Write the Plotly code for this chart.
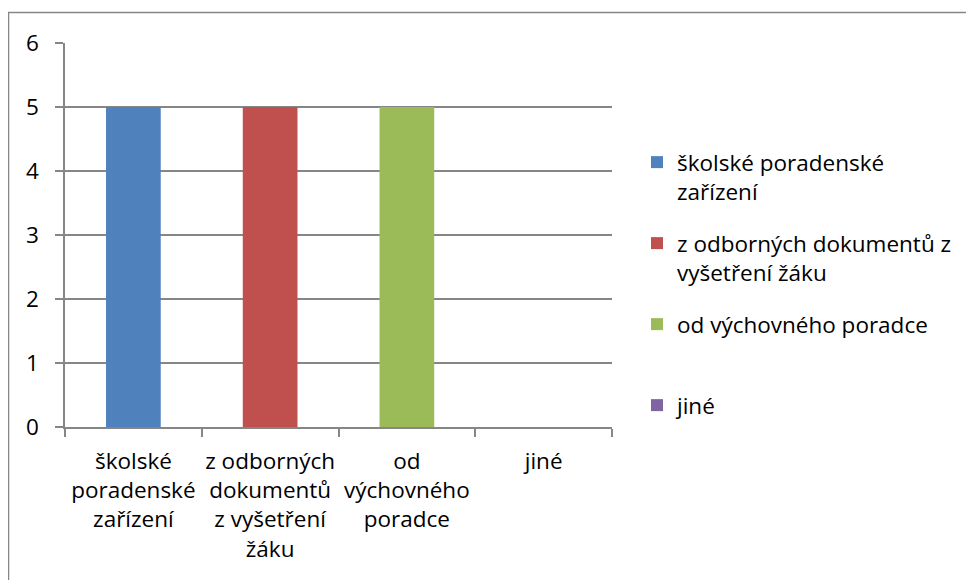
import plotly.graph_objects as go

# categories / values
categories = ["školské poradenské zařízení", "z odborných dokumentů z vyšetření žáku",
              "od výchovného poradce", "jiné"]
values = [5, 5, 5, 0]
tick_labels = ["školské<br>poradenské<br>zařízení",
               "z odborných<br>dokumentů<br>z vyšetření<br>žáku",
               "od<br>výchovného<br>poradce",
               "jiné"]
legend_labels = ["školské poradenské<br>zařízení",
                 "z odborných dokumentů z<br>vyšetření žáku",
                 "od výchovného poradce<br> ",
                 "jiné<br> "]
y_ticks = [0, 1, 2, 3, 4, 5, 6]

COLORS = ["#4F81BD", "#C0504D", "#9BBB59", "#8064A2"]
GRID = "#868686"
FONT = "Open Sans"
FS = 22.5

# page body has an 8px margin, so figure coords = page coords - 8
OFF = 8
W, H = 974, 580
L, R, T, B = 65 - OFF, 612 - OFF, 43 - OFF, 427 - OFF
pw, ph = R - L, B - T

fig = go.Figure()
for i, (cat, val) in enumerate(zip(categories, values)):
    fig.add_trace(
        go.Bar(
            x=[cat],
            y=[val],
            name=legend_labels[i],
            legendgroup=f"g{i}",
            marker_color=COLORS[i],
            marker_line_width=0,
            width=0.4,
        )
    )

# outer chart border (cut off at right/bottom as in the source)
fig.add_shape(
    type="rect", xref="paper", yref="paper",
    x0=(8.5 - OFF - L) / pw, x1=(1000 - L) / pw,
    y0=-0.6, y1=1 + (T - (12.5 - OFF)) / ph,
    line=dict(color=GRID, width=1.5),
    layer="below",
)

fig.update_layout(
    width=W,
    height=H,
    margin=dict(l=L, r=W - R, t=T, b=H - B, autoexpand=False),
    paper_bgcolor="white",
    plot_bgcolor="white",
    barmode="overlay",
    font=dict(family=FONT, size=FS, color="#000000"),
    legend=dict(
        x=(637 - OFF - L) / pw,
        xanchor="left",
        y=1 - (141 - OFF - T) / ph,
        yanchor="top",
        valign="top",
        traceorder="grouped",
        tracegroupgap=19.5,
        font=dict(family=FONT, size=FS, color="#000000"),
        bgcolor="rgba(0,0,0,0)",
    ),
)
fig.update_xaxes(
    categoryorder="array",
    categoryarray=categories,
    tickvals=categories,
    ticktext=tick_labels,
    tickangle=0,
    showline=True,
    linecolor=GRID,
    linewidth=1.5,
    ticks="outside",
    tickson="boundaries",
    ticklen=8,
    tickcolor=GRID,
    tickwidth=1.5,
    showgrid=False,
    ticklabelstandoff=13,
)
fig.update_yaxes(
    range=[0, 6],
    tickvals=y_ticks,
    showline=True,
    linecolor=GRID,
    linewidth=1.5,
    ticks="outside",
    ticklen=8,
    tickcolor=GRID,
    tickwidth=1.5,
    showgrid=True,
    gridcolor=GRID,
    gridwidth=1.5,
    zeroline=False,
    ticklabelstandoff=12,
)

fig.write_html("out.html")
